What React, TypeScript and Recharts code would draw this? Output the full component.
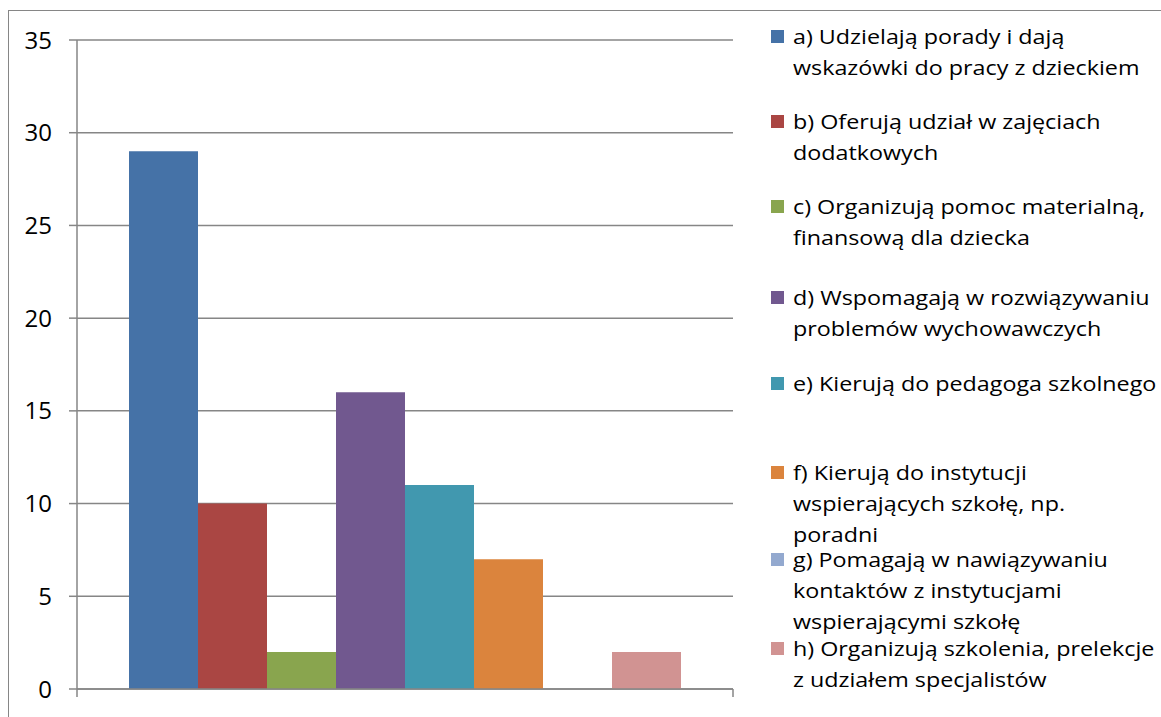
import React from "react";
import { BarChart, Bar, XAxis, YAxis, CartesianGrid, Legend } from "recharts";

const seriesKeys = ["a", "b", "c", "d", "e", "f", "g", "h"];
const seriesNames = [
  "a) Udzielają porady i dają\nwskazówki do pracy z dzieckiem",
  "b) Oferują udział w zajęciach\ndodatkowych",
  "c) Organizują pomoc materialną,\nfinansową dla dziecka",
  "d) Wspomagają w rozwiązywaniu\nproblemów wychowawczych",
  "e) Kierują do pedagoga szkolnego",
  "f) Kierują do instytucji\nwspierających szkołę, np.\nporadni",
  "g) Pomagają w nawiązywaniu\nkontaktów z instytucjami\nwspierającymi szkołę",
  "h) Organizują szkolenia, prelekcje\nz udziałem specjalistów",
];
const seriesValues = [29, 10, 2, 16, 11, 7, 0, 2];
const seriesColors = ["#4572A7", "#AA4643", "#89A54E", "#71588F", "#4198AF", "#DB843D", "#93A9CF", "#D19392"];
const yTicks = [0, 5, 10, 15, 20, 25, 30, 35];
const categories = [""];

const data = categories.map((c) => {
  const row: Record<string, any> = { name: c };
  seriesKeys.forEach((k, i) => (row[k] = seriesValues[i]));
  return row;
});

const W = 1161;
const H = 717;
const PLOT_LEFT = 77;
const PLOT_RIGHT = 733;
const PLOT_TOP = 40;
const PLOT_BOTTOM = 689;
const GRID = "#868686";
const legendTops = [21, 106, 191, 282, 368, 457, 544, 633];

const XTick = () => (
  <g>
    <line x1={PLOT_LEFT} x2={PLOT_LEFT} y1={PLOT_BOTTOM} y2={PLOT_BOTTOM + 8} stroke={GRID} strokeWidth={1.5} />
    <line x1={PLOT_RIGHT} x2={PLOT_RIGHT} y1={PLOT_BOTTOM} y2={PLOT_BOTTOM + 8} stroke={GRID} strokeWidth={1.5} />
  </g>
);

const LegendContent = () => (
  <div style={{ position: "relative", width: 390, height: H }}>
    {seriesKeys.map((k, i) => (
      <div key={k} style={{ position: "absolute", left: 0, top: legendTops[i], display: "flex" }}>
        <div style={{ width: 13, height: 13, background: seriesColors[i], marginTop: 9, marginRight: 9, flex: "none" }} />
        <div
          style={{
            fontFamily: "'Open Sans', sans-serif",
            fontSize: 20,
            lineHeight: "31px",
            color: "#000",
            whiteSpace: "pre",
            transform: "scaleX(1.165)",
            transformOrigin: "left center",
          }}
        >
          {seriesNames[i]}
        </div>
      </div>
    ))}
  </div>
);

export default function App() {
  return (
    <div style={{ position: "absolute", left: 0, top: 0, width: W, height: H, overflow: "hidden", background: "#fff" }}>
      <div
        style={{
          position: "absolute",
          left: 8,
          top: 10,
          width: W,
          height: H,
          borderLeft: `1.5px solid ${GRID}`,
          borderTop: `1.5px solid ${GRID}`,
        }}
      />
      <div style={{ position: "absolute", left: 0, top: 0 }}>
        <BarChart
          width={W}
          height={H}
          data={data}
          margin={{ top: PLOT_TOP, right: W - PLOT_RIGHT, bottom: 0, left: 0 }}
          barCategoryGap={52}
          barGap={0}
        >
          <CartesianGrid vertical={false} stroke={GRID} strokeWidth={1.5} />
          <XAxis
            dataKey="name"
            axisLine={{ stroke: GRID, strokeWidth: 1.5 }}
            tickLine={false}
            tick={<XTick />}
            height={H - PLOT_BOTTOM}
          />
          <YAxis
            width={PLOT_LEFT}
            domain={[0, 35]}
            ticks={yTicks}
            interval={0}
            axisLine={{ stroke: GRID, strokeWidth: 1.5 }}
            tickLine={{ stroke: GRID, strokeWidth: 1.5 }}
            tickSize={8}
            tickMargin={17}
            tick={{ fill: "#000", fontSize: 24, fontFamily: "'Open Sans', sans-serif" }}
          />
          {seriesKeys.map((k, i) => (
            <Bar key={k} dataKey={k} name={seriesNames[i]} fill={seriesColors[i]} isAnimationActive={false} />
          ))}
          <Legend
            layout="vertical"
            align="center"
            verticalAlign="middle"
            content={<LegendContent />}
            wrapperStyle={{ left: 771, top: 0, width: 390, height: H }}
          />
        </BarChart>
      </div>
    </div>
  );
}
